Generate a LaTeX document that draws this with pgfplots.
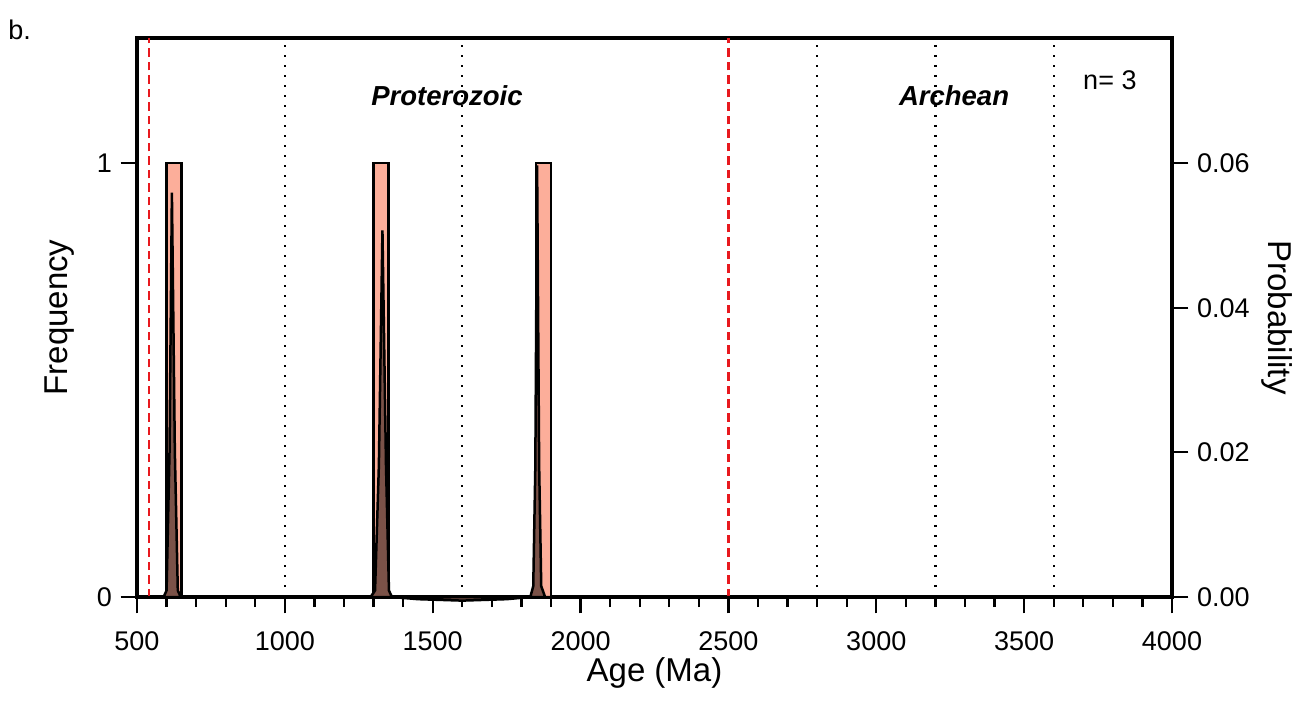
\documentclass[border=0pt]{standalone}
\usepackage{fontspec}
\setmainfont{Liberation Sans}
\usepackage{pgfplots}
\pgfplotsset{compat=1.18}
\definecolor{barfill}{HTML}{FCAE9A}
\definecolor{pdpfill}{HTML}{7B5248}
\definecolor{epochred}{HTML}{E8191E}

\pgfplotsset{
  agebase/.style={
    scale only axis, width=414pt, height=223.6pt,
    xmin=500, xmax=4000,
    axis line style={line width=1.4pt},
    tick style={line width=0.9pt, black},
    tick align=outside,
    major tick length=6.5pt, minor tick length=4pt,
    ticklabel style={font=\fontsize{10.8}{13}\selectfont},
    label style={font=\fontsize{13.2}{16}\selectfont},
    /pgf/number format/assume math mode=true,
    /pgf/number format/set thousands separator={},
  },
}

\begin{document}
\begin{tikzpicture}
% page frame: the axis box sits at the origin
\path[use as bounding box] (-54.8pt,-42.4pt) rectangle (464.8pt,238.8pt);
% frequency axis (histogram)
\begin{axis}[agebase,
  ymin=0, ymax=1.288,
  ytick={0,1}, ytick pos=left,
  xtick={500,1000,...,4000}, minor x tick num=4, xtick pos=bottom,
  xticklabel style={yshift=-4pt},
  xlabel={Age (Ma)}, ylabel={Frequency},
  xlabel style={at={(axis description cs:0.5,-0.136)}, anchor=center},
  ylabel style={yshift=2pt},
  clip=false,
]
  \addplot[ybar, bar width=50, fill=barfill, draw=black, line width=1pt]
    coordinates {(625,1) (1325,1) (1875,1)};
  % epoch boundaries
  \addplot[epochred, line width=1.1pt, dash pattern=on 3.4pt off 2pt] coordinates {(541,0) (541,1.288)};
  \addplot[epochred, line width=1.1pt, dash pattern=on 3.4pt off 2pt] coordinates {(2500,0) (2500,1.288)};
  % grid lines
  \addplot[black, line width=0.9pt, dash pattern=on 0.8pt off 3.2pt] coordinates {(1000,0) (1000,1.288)};
  \addplot[black, line width=0.9pt, dash pattern=on 0.8pt off 3.2pt] coordinates {(1600,0) (1600,1.288)};
  \addplot[black, line width=0.9pt, dash pattern=on 0.8pt off 3.2pt] coordinates {(2800,0) (2800,1.288)};
  \addplot[black, line width=0.9pt, dash pattern=on 0.8pt off 3.2pt] coordinates {(3200,0) (3200,1.288)};
  \addplot[black, line width=0.9pt, dash pattern=on 0.8pt off 3.2pt] coordinates {(3600,0) (3600,1.288)};
  \node[font=\fontsize{11}{13}\selectfont\bfseries\itshape] at (axis cs:1548,1.154) {Proterozoic};
  \node[font=\fontsize{11}{13}\selectfont\bfseries\itshape] at (axis cs:3263,1.154) {Archean};
  \node[font=\fontsize{10.8}{13}\selectfont] at (axis cs:3790,1.191) {n= 3};
  \node[anchor=west, font=\fontsize{10.8}{13}\selectfont] at (rel axis cs:-0.1329,1.015) {b.};
\end{axis}
% probability axis (PDP)
\begin{axis}[agebase,
  ymin=0, ymax=0.0773,
  axis y line*=right, axis x line=none,
  ytick={0,0.02,0.04,0.06}, scaled y ticks=false,
  yticklabel style={/pgf/number format/fixed, /pgf/number format/fixed zerofill, /pgf/number format/precision=2},
  ylabel={Probability}, ylabel style={rotate=180, yshift=-2pt},
  clip=false,
]
  \addplot[fill=pdpfill, draw=black, line width=1pt] coordinates {
    (500,0) (590,0) (600,0.0009) (610,0.0201) (618,0.0559) (628,0.0201) (638,0.0009) (648,0)
    (1290,0) (1305,0.0009) (1318,0.0183) (1330,0.0507) (1342,0.0183) (1352,0.0009) (1362,0)
    (1450,-0.0003) (1600,-0.0005) (1750,-0.0003)
    (1830,0) (1840,0.0015) (1847,0.018) (1853,0.0597) (1860,0.018) (1867,0.0015) (1880,0)
    (4000,0)
  } \closedcycle;
\end{axis}
\end{tikzpicture}
\end{document}
